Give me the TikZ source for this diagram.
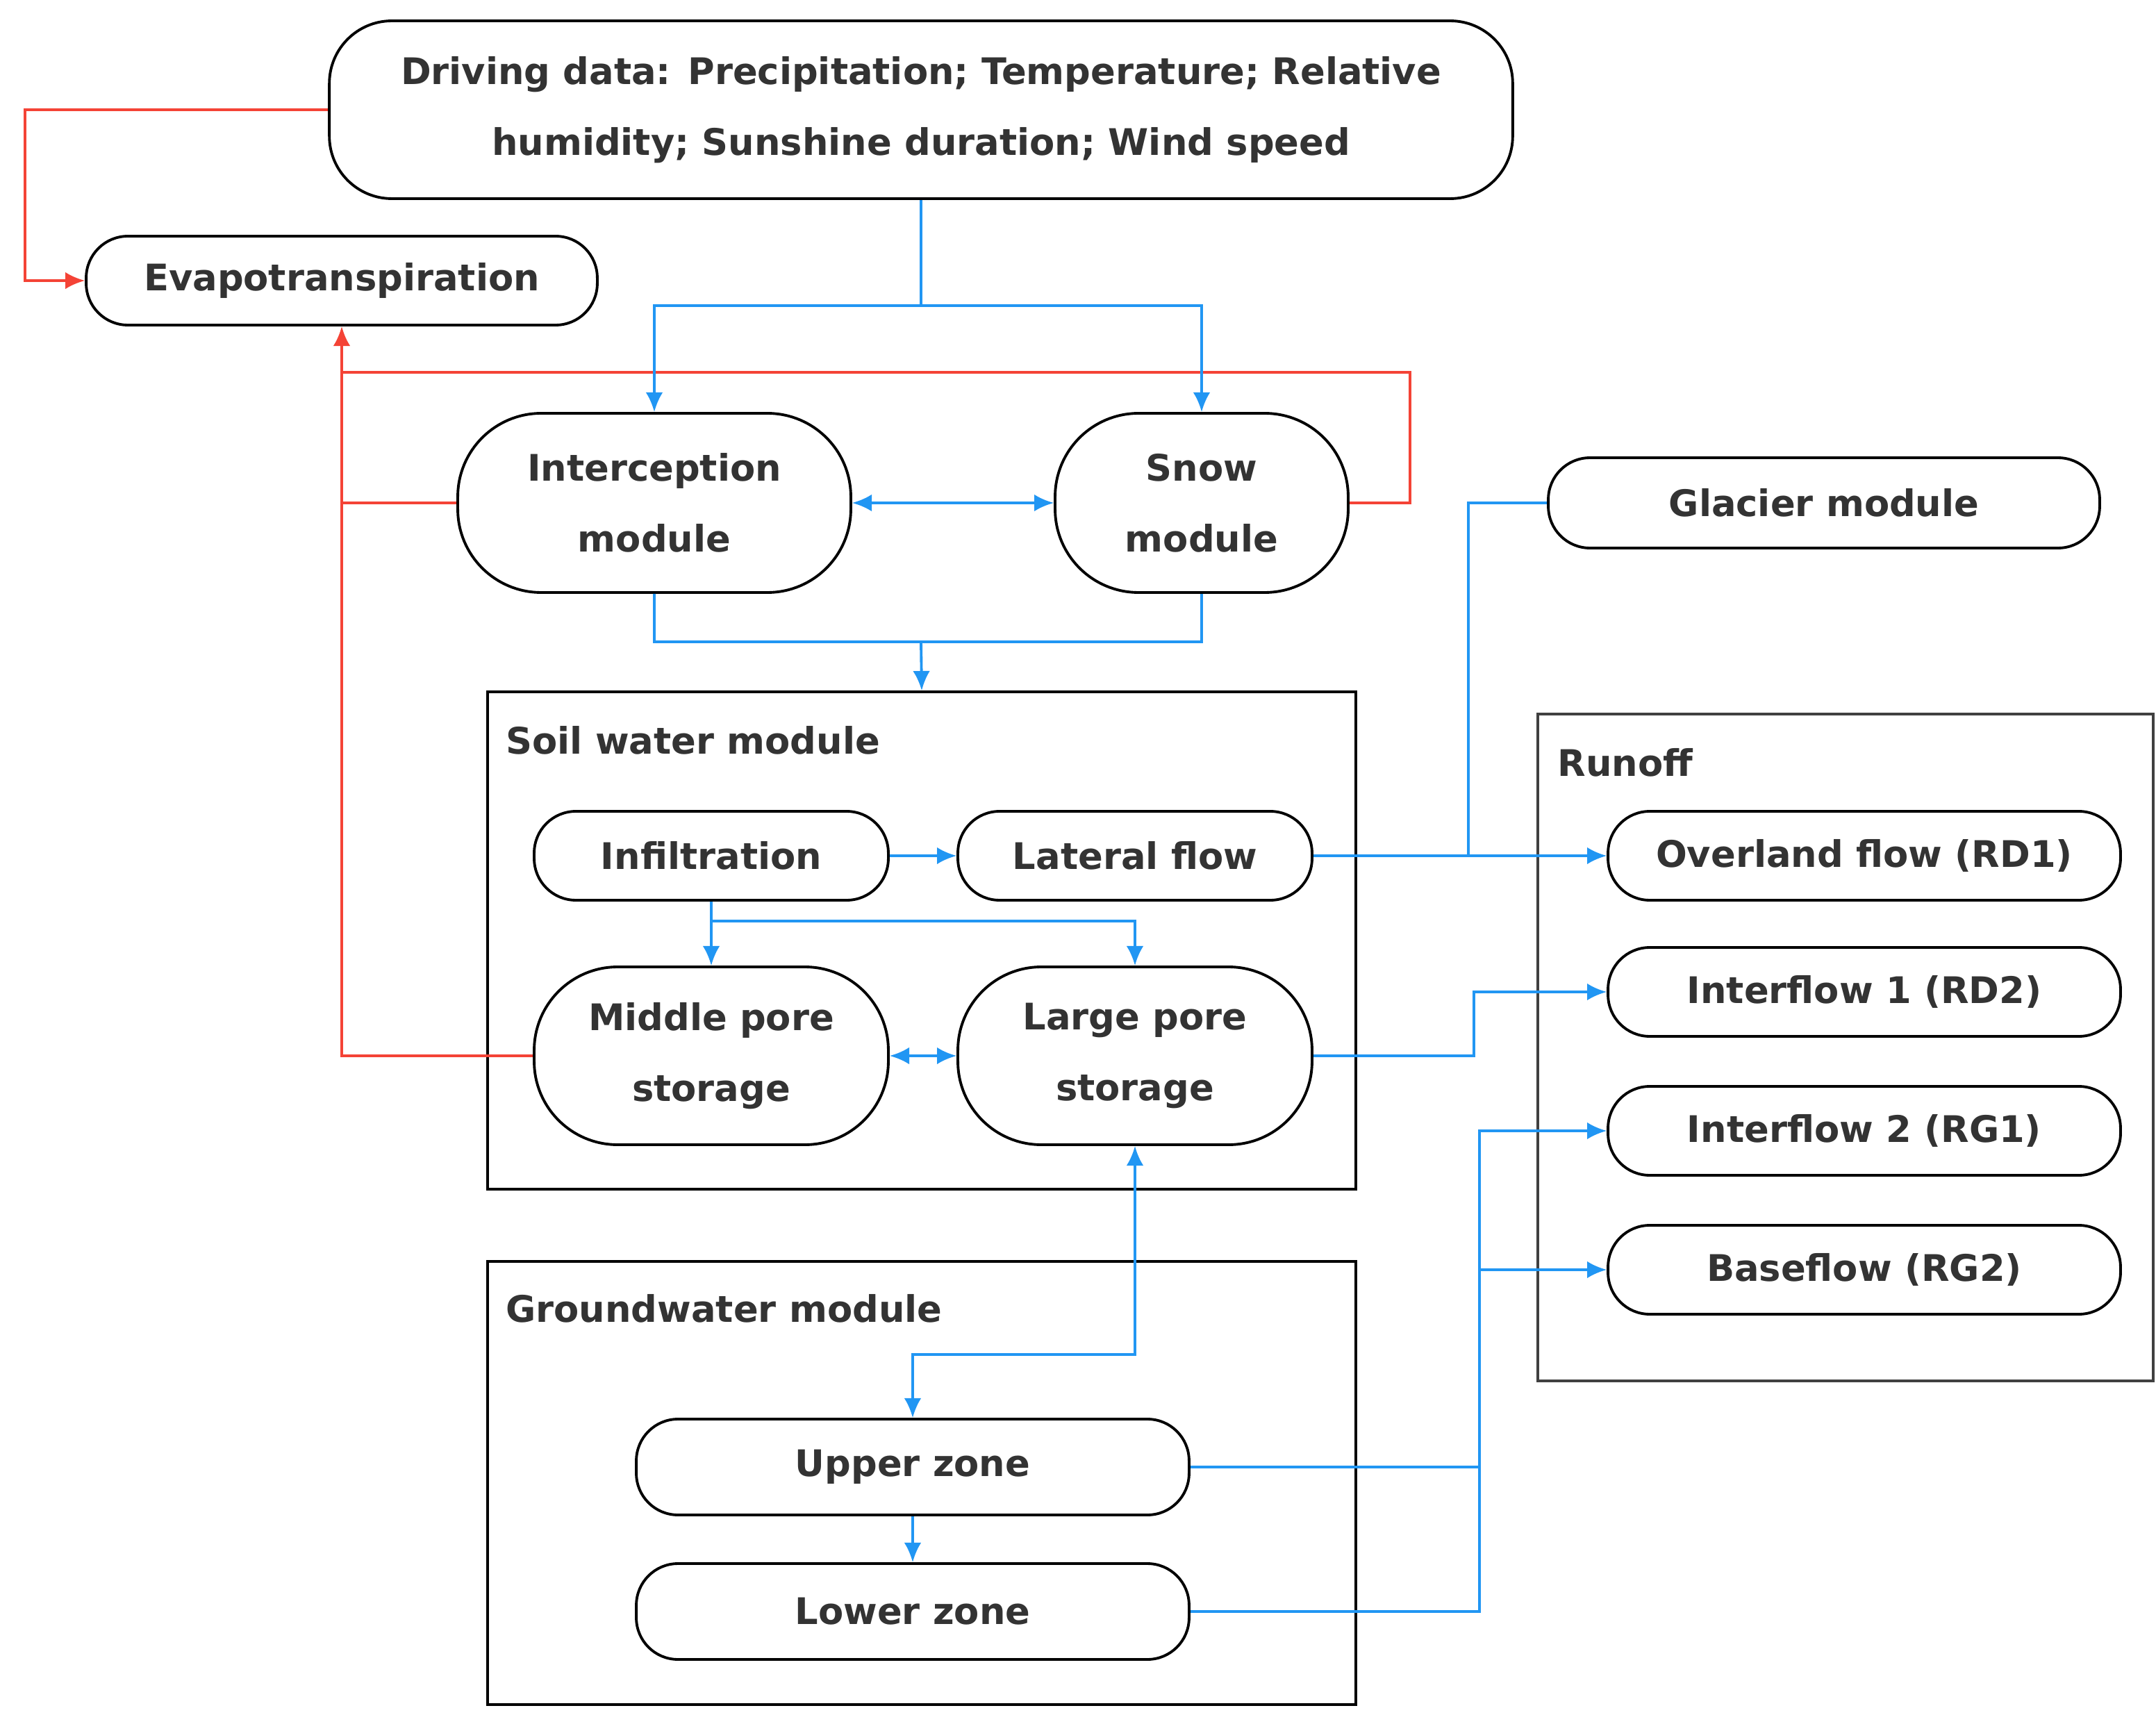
\documentclass[tikz,border=0pt]{standalone}
\usepackage{fontspec}
\setmainfont{DejaVu Sans}
\usetikzlibrary{arrows.meta,positioning}
\definecolor{wblue}{RGB}{33,150,243}
\definecolor{wred}{RGB}{244,67,54}
\definecolor{txt}{RGB}{51,51,51}
\tikzset{
  pill/.style={draw=black,line width=1.1pt,rounded corners=0.6cm,text=txt,
    font=\fontsize{15}{29}\selectfont\bfseries,align=center,
    minimum height=1.28cm,inner sep=0pt},
  frame/.style={draw=black,line width=1.1pt,inner sep=0pt},
  blu/.style={draw=wblue,line width=1.1pt,-{Latex[length=8pt,width=7pt]}},
  rd/.style={draw=wred,line width=1.1pt,-{Latex[length=8pt,width=7pt]}},
  lbl/.style={anchor=west,text=txt,font=\fontsize{15}{19}\selectfont\bfseries}
}
\begin{document}
\begin{tikzpicture}[x=0.02cm,y=-0.02cm]
\useasboundingbox (0,0) rectangle (1552,1234.5);

% frames
\node[frame,minimum width=12.5cm,minimum height=7.16cm] (soil) at (663.5,677) {};
\node[lbl] at (358,533) {Soil water module};
\node[frame,minimum width=12.5cm,minimum height=6.38cm] (gw) at (663.5,1067.5) {};
\node[lbl] at (358,942) {Groundwater module};
\node[frame,draw=black!75,minimum width=8.86cm,minimum height=9.6cm] (runoff) at (1328.5,754) {};
\node[lbl] at (1115,549) {Runoff};

% modules
\node[pill,rounded corners=0.9cm,minimum width=17.04cm,minimum height=2.56cm] (drive) at (663,79)
  {Driving data: Precipitation;\ Temperature; Relative\\humidity; Sunshine duration; Wind speed};
\node[pill,minimum width=7.36cm] (evap) at (246,202) {Evapotranspiration};
\node[pill,rounded corners=1.2cm,minimum width=5.66cm,minimum height=2.58cm] (inter) at (471,362) {Interception\\module};
\node[pill,rounded corners=1.2cm,minimum width=4.22cm,minimum height=2.58cm] (snow) at (865,362) {Snow\\module};
\node[pill,minimum width=7.94cm,minimum height=1.3cm] (glac) at (1313,362) {Glacier module};
\node[pill,minimum width=5.1cm] (infil) at (512,616) {Infiltration};
\node[pill,minimum width=5.1cm] (lat) at (817,616) {Lateral flow};
\node[pill,rounded corners=1.2cm,minimum width=5.1cm,minimum height=2.56cm] (mid) at (512,760) {Middle pore\\storage};
\node[pill,rounded corners=1.2cm,minimum width=5.1cm,minimum height=2.56cm] (large) at (817,760) {Large pore\\storage};
\node[pill,minimum width=7.96cm,minimum height=1.38cm] (upper) at (657,1056) {Upper zone};
\node[pill,minimum width=7.96cm,minimum height=1.38cm] (lower) at (657,1160) {Lower zone};
\node[pill,minimum width=7.38cm] (rd1) at (1342,616) {Overland flow (RD1)};
\node[pill,minimum width=7.38cm] (rd2) at (1342,714) {Interflow 1 (RD2)};
\node[pill,minimum width=7.38cm] (rg1) at (1342,814) {Interflow 2 (RG1)};
\node[pill,minimum width=7.38cm] (rg2) at (1342,914) {Baseflow (RG2)};

% evapotranspiration
\draw[rd] (drive.west) -- (18,79) |- (evap.west);
\draw[rd] (snow.east) -- (1015,362) |- (246,268) -- (evap.south);
\draw[draw=wred,line width=1.1pt] (inter.west) -- (246,362);
\draw[draw=wred,line width=1.1pt] (mid.west) -| (246,268);

% water flow
\draw[blu] (drive.south) -- (663,220) -| (inter.north);
\draw[blu] (663,220) -| (snow.north);
\draw[blu,{Latex[length=8pt,width=7pt]}-{Latex[length=8pt,width=7pt]}] (inter.east) -- (snow.west);
\draw[blu] (inter.south) |- (663,462) -- (soil.north);
\draw[draw=wblue,line width=1.1pt] (snow.south) |- (663,462);
\draw[blu] (infil.east) -- (lat.west);
\draw[blu] (infil.south) -- (mid.north);
\draw[blu] (512,663) -| (large.north);
\draw[blu,{Latex[length=8pt,width=7pt]}-{Latex[length=8pt,width=7pt]}] (mid.east) -- (large.west);
\draw[blu] (lat.east) -- (rd1.west);
\draw[draw=wblue,line width=1.1pt] (glac.west) -| (1057,616);
\draw[blu] (large.east) -- (1061,760) |- (rd2.west);
\draw[blu,{Latex[length=8pt,width=7pt]}-{Latex[length=8pt,width=7pt]}] (upper.north) |- (817,975) -- (large.south);
\draw[blu] (upper.south) -- (lower.north);
\draw[blu] (upper.east) -- (1065,1056) |- (rg1.west);
\draw[blu] (1065,914) -- (rg2.west);
\draw[draw=wblue,line width=1.1pt] (lower.east) -| (1065,1056);

\end{tikzpicture}
\end{document}
